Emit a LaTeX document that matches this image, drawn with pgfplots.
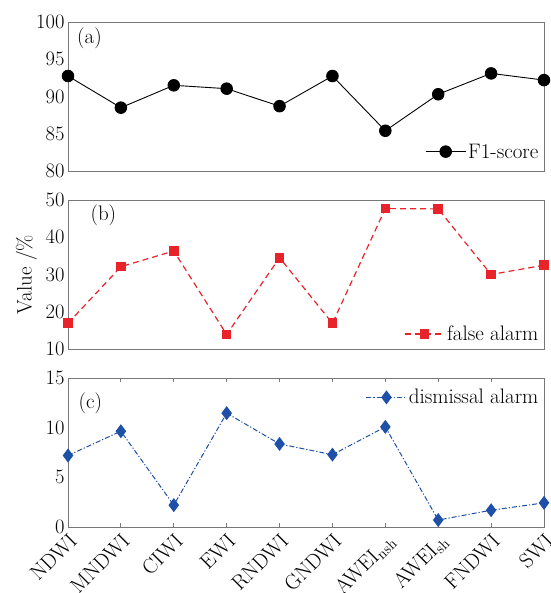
\documentclass[border=0pt]{standalone}
\usepackage{pgfplots}
\pgfplotsset{compat=1.18}
\definecolor{myred}{RGB}{232,36,42}
\definecolor{myblue}{RGB}{30,80,168}
\definecolor{framec}{RGB}{120,120,120}
\newcommand{\fs}{\fontsize{21}{24}\selectfont}
\newcommand{\ft}{\fontsize{20.5}{24}\selectfont}
\pgfplotsset{
 common/.style={
  width=476pt, height=149pt, scale only axis,
  xmin=0, xmax=9,
  axis line style={framec, line width=0.9pt},
  /pgf/number format/assume math mode=true,
  tick label style={font=\ft},
  label style={font=\fs},
  legend style={font=\fs, draw=none, fill=none, inner sep=1pt},
  ytick style={draw=none},
  legend image code/.code={\draw[mark repeat=2,mark phase=2,##1] plot coordinates {(0pt,0pt)(20pt,0pt)(40pt,0pt)};},
  clip=false,
 }
}
\begin{document}
\begin{tikzpicture}
\useasboundingbox (-68pt,-66pt) rectangle (482pt,527pt);
% (a)
\begin{axis}[common, at={(0pt,356pt)}, ymin=80, ymax=100, ytick={80,85,90,95,100}, xtick=\empty,
  legend style={at={(0.995,0.13)}, anchor=east}]
\addplot[black, line width=0.9pt, mark=*, mark size=5.8pt] coordinates {
(0,92.75) (1,88.5) (2,91.5) (3,91.05) (4,88.7) (5,92.75) (6,85.4) (7,90.3) (8,93.1) (9,92.2)};
\legend{F1-score}
\node[anchor=west, font=\fs] at (rel axis cs:0.012,0.89) {(a)};
\end{axis}
% (b)
\begin{axis}[common, at={(0pt,178pt)}, ymin=10, ymax=50, ytick={10,20,30,40,50}, xtick=\empty,
  ylabel={Value /\%}, ylabel shift=2pt,
  legend style={at={(0.995,0.1)}, anchor=east}]
\addplot[myred, line width=1.2pt, dash pattern=on 6pt off 4pt, mark=square*, mark size=4.2pt, mark options={solid}] coordinates {
(0,16.9) (1,32.1) (2,36.3) (3,13.9) (4,34.5) (5,16.9) (6,47.7) (7,47.6) (8,30.0) (9,32.5)};
\legend{false alarm}
\node[anchor=west, font=\fs] at (rel axis cs:0.04,0.9) {(b)};
\end{axis}
% (c)
\begin{axis}[common, at={(0pt,0pt)}, ymin=0, ymax=15, ytick={0,5,10,15},
  xtick={0,...,9}, tick align=inside, major tick length=4pt,
  xtick style={framec, line width=0.8pt},
  xticklabels={NDWI, MNDWI, CIWI, EWI, RNDWI, GNDWI, AWEI\textsubscript{nsh}, AWEI\textsubscript{sh}, FNDWI, SWI},
  xticklabel style={rotate=45, anchor=north east, font=\fs},
  legend style={at={(0.995,0.87)}, anchor=east}]
\addplot[myblue, line width=1pt, dash pattern=on 5pt off 2pt on 1.2pt off 2pt, mark=diamond*, mark size=6.2pt, mark options={solid}] coordinates {
(0,7.2) (1,9.64) (2,2.2) (3,11.46) (4,8.36) (5,7.28) (6,10.08) (7,0.7) (8,1.69) (9,2.43)};
\legend{dismissal alarm}
\node[anchor=west, font=\fs] at (rel axis cs:0.015,0.83) {(c)};
\end{axis}
\end{tikzpicture}
\end{document}
